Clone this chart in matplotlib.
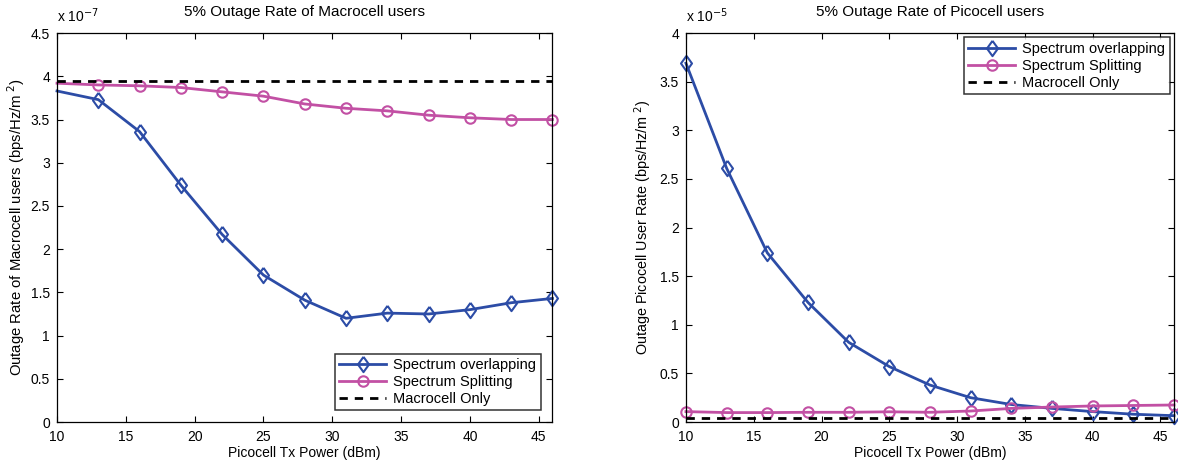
import numpy as np
from matplotlib import pyplot as plt
from matplotlib.ticker import FuncFormatter

# picocell transmit power (dBm)
tx_power = [10, 13, 16, 19, 22, 25, 28, 31, 34, 37, 40, 43, 46]

# macrocell users, values in units of 1e-7
macro_overlap = [3.83, 3.73, 3.36, 2.74, 2.17, 1.70, 1.41, 1.20, 1.26, 1.25, 1.30, 1.38, 1.43]
macro_split = [3.92, 3.90, 3.89, 3.87, 3.82, 3.77, 3.68, 3.63, 3.60, 3.55, 3.52, 3.50, 3.50]
macro_only = 3.95

# picocell users, values in units of 1e-5
pico_overlap = [3.69, 2.61, 1.74, 1.23, 0.82, 0.57, 0.38, 0.25, 0.18, 0.14, 0.107, 0.08, 0.065]
pico_split = [0.107, 0.097, 0.097, 0.10, 0.10, 0.105, 0.10, 0.113, 0.14, 0.154, 0.165, 0.17, 0.175]
pico_macro_only = 0.042

blue = '#2c4ca6'
pink = '#c250a4'
# matlab style diamond (a bit wider than matplotlib's 'd')
diamond = [(0, 1), (0.72, 0), (0, -1), (-0.72, 0), (0, 1)]

plt.rcParams['font.family'] = ['Liberation Sans', 'DejaVu Sans']
plt.rcParams['font.size'] = 9

fig = plt.figure(figsize=(11.78, 4.66), dpi=100)
ax1 = fig.add_axes([0.0484, 0.0944, 0.4206, 0.8346])
ax2 = fig.add_axes([0.5823, 0.0944, 0.4143, 0.8346])

fmt = FuncFormatter(lambda v, p: '%g' % v)

def style(ax, ymax, ystep, exp):
    ax.set_xlim(10, 46)
    ax.set_ylim(0, ymax)
    ax.set_xticks(np.arange(10, 46, 5))
    ax.set_yticks(np.arange(0, ymax + 1e-9, ystep))
    ax.xaxis.set_major_formatter(fmt)
    ax.yaxis.set_major_formatter(fmt)
    ax.tick_params(direction='in', top=True, right=True, length=4, width=0.8,
                   labelsize=10)
    ax.tick_params(axis='x', pad=6)
    ax.tick_params(axis='y', pad=5)
    for s in ax.spines.values():
        s.set_linewidth(0.9)
    ax.set_xlabel('Picocell Tx Power (dBm)', fontsize=10, labelpad=1)
    ax.text(0.0, 1.02, 'x 10$^{%d}$' % exp, transform=ax.transAxes,
            fontsize=10, ha='left', va='bottom')

def add_legend(ax, loc, pad):
    leg = ax.legend(loc=loc, fontsize=10.5, frameon=True, fancybox=False,
                    edgecolor='black', borderaxespad=pad, handlelength=3.2,
                    handletextpad=0.5, labelspacing=0.2, borderpad=0.3)
    leg.get_frame().set_linewidth(1.1)

# left: macrocell users
ax1.plot(tx_power, macro_overlap, '-', marker=diamond, color=blue, lw=2, ms=11, mfc='none', mew=1.5,
         markevery=list(range(1, len(tx_power))), label='Spectrum overlapping', clip_on=False)
ax1.plot(tx_power, macro_split, '-o', color=pink, lw=2, ms=7.5, mfc='none', mew=1.5,
         markevery=list(range(1, len(tx_power))), label='Spectrum Splitting', clip_on=False)
ax1.plot([tx_power[0], tx_power[-1]], [macro_only, macro_only], '--', color='black',
         lw=2, dashes=(3, 2.5), label='Macrocell Only')
style(ax1, 4.5, 0.5, -7)
ax1.set_title('5% Outage Rate of Macrocell users', fontsize=11, pad=12)
ax1.set_ylabel('Outage Rate of Macrocell users (bps/Hz/m$^{\\ 2}$)', fontsize=10.7, labelpad=3)
add_legend(ax1, 'lower right', 0.8)

# right: picocell users
ax2.plot(tx_power, pico_overlap, '-', marker=diamond, color=blue, lw=2, ms=11, mfc='none', mew=1.5,
         label='Spectrum overlapping', clip_on=False)
ax2.plot(tx_power, pico_split, '-o', color=pink, lw=2, ms=7.5, mfc='none', mew=1.5,
         label='Spectrum Splitting', clip_on=False)
ax2.plot([tx_power[0], tx_power[-1]], [pico_macro_only, pico_macro_only], '--', color='black',
         lw=2, dashes=(3, 2.5), label='Macrocell Only')
style(ax2, 4, 0.5, -5)
ax2.set_title('5% Outage Rate of Picocell users', fontsize=11, pad=12)
ax2.set_ylabel('Outage Picocell User Rate (bps/Hz/m$^{\\ 2}$)', fontsize=10.4, labelpad=4)
add_legend(ax2, 'upper right', 0.3)

fig.savefig('out.png', dpi=100)
